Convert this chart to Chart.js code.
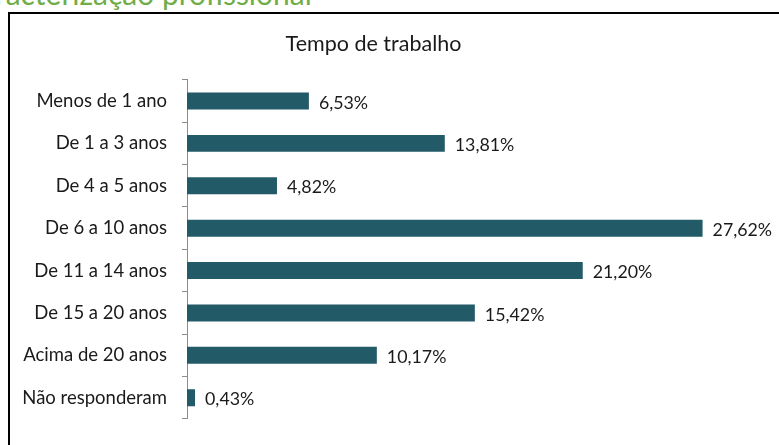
<!DOCTYPE html>
<html>
<head>
<meta charset="utf-8">
<script src="https://cdn.jsdelivr.net/npm/chart.js@4.4.1/dist/chart.umd.min.js"></script>
<style>
  html, body { margin: 0; padding: 0; background: #fff; }
  body { width: 779px; height: 445px; position: relative; overflow: hidden; font-family: Lato, "Open Sans", sans-serif; }
  #heading {
    position: absolute; left: -40px; top: -22px; width: 342px; text-align: right;
    color: #70ad47; font-size: 30px; line-height: 30px; white-space: nowrap;
  }
  #box {
    position: absolute; left: 8px; top: 12px; right: -10px; bottom: -10px;
    border-left: 2px solid #000; border-top: 2px solid #000;
  }
  #wrap { position: absolute; left: 0; top: 0; width: 779px; height: 445px; }
</style>
</head>
<body>
<div id="heading">Caracterização profissional</div>
<div id="box"></div>
<div id="wrap"><canvas id="tempoChart"></canvas></div>
<script>
const categories = [
    'Menos de 1 ano',
    'De 1 a 3 anos',
    'De 4 a 5 anos',
    'De 6 a 10 anos',
    'De 11 a 14 anos',
    'De 15 a 20 anos',
    'Acima de 20 anos',
    'Não responderam'
];
const percentages = [6.53, 13.81, 4.82, 27.62, 21.20, 15.42, 10.17, 0.43];

const fontFamily = 'Lato, "Open Sans", sans-serif';

// draws the value next to each bar, using the bar elements' own positions
const valueLabels = {
    id: 'valueLabels',
    afterDatasetsDraw(chart) {
        const ctx = chart.ctx;
        const meta = chart.getDatasetMeta(0);
        ctx.save();
        ctx.font = '17.8px ' + fontFamily;
        ctx.fillStyle = '#1a1a1a';
        ctx.textAlign = 'left';
        ctx.textBaseline = 'middle';
        meta.data.forEach((bar, i) => {
            const txt = percentages[i].toFixed(2).replace('.', ',') + '%';
            ctx.fillText(txt, bar.x + 10, bar.y + 2);
        });
        ctx.restore();
    }
};

const canvas = document.getElementById('tempoChart');
const ctx = canvas.getContext('2d');

window.tempoChart = new Chart(ctx, {
    type: 'bar',
    data: {
        labels: categories,
        datasets: [{
            data: percentages,
            backgroundColor: '#235a67',
            borderWidth: 0,
            barPercentage: 0.4,
            categoryPercentage: 1
        }]
    },
    options: {
        indexAxis: 'y',
        responsive: true,
        maintainAspectRatio: false,
        animation: false,
        layout: {
            padding: { top: 0, left: 0, right: 32, bottom: 15 }
        },
        plugins: {
            legend: { display: false },
            tooltip: { enabled: false },
            title: {
                display: true,
                text: 'Tempo de trabalho',
                color: '#1a1a1a',
                font: { family: fontFamily, size: 21.5, weight: 'normal', lineHeight: 1.2 },
                padding: { top: 31, bottom: 23 }
            }
        },
        scales: {
            x: {
                display: false,
                min: 0,
                max: 30
            },
            y: {
                afterFit: (scale) => { scale.width = 187; },
                border: { display: true, color: '#8c8c8c', width: 1 },
                grid: {
                    display: true,
                    drawOnChartArea: false,
                    drawTicks: true,
                    tickLength: 5,
                    offset: true,
                    color: '#8c8c8c'
                },
                ticks: {
                    color: '#1a1a1a',
                    padding: 15,
                    font: { family: fontFamily, size: 18.5 }
                }
            }
        }
    },
    plugins: [valueLabels]
});
</script>
</body>
</html>
